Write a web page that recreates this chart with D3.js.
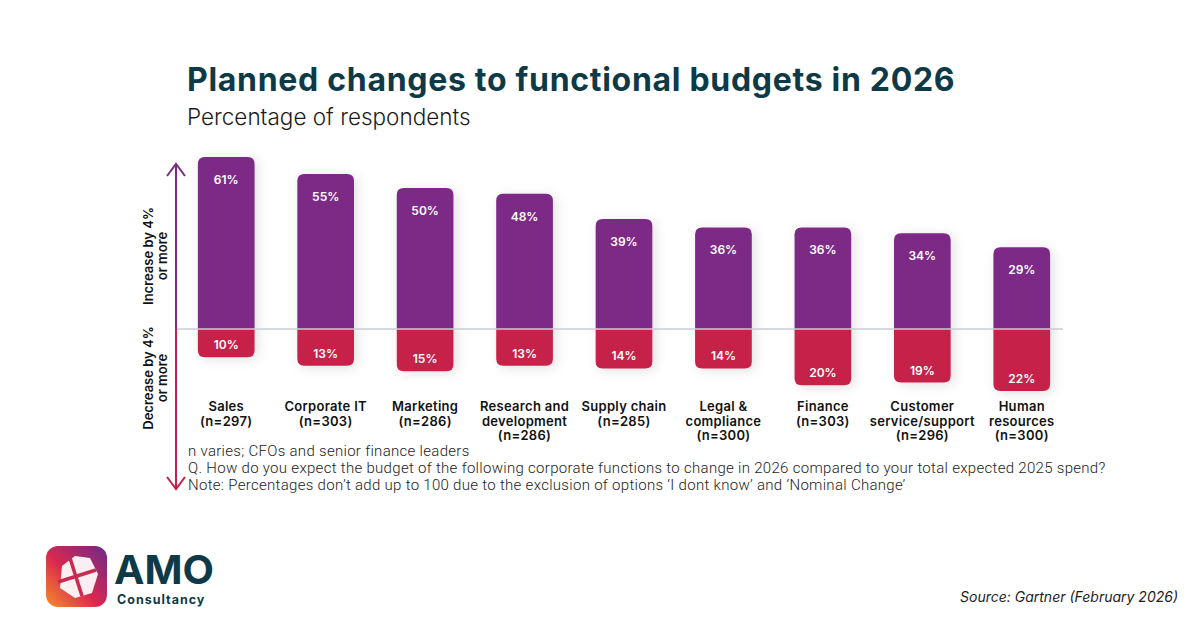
<!DOCTYPE html>
<html>
<head>
<meta charset="utf-8">
<script src="https://cdn.jsdelivr.net/npm/d3@7/dist/d3.min.js"></script>
<style>
  html, body { margin: 0; padding: 0; background: #fff; }
  svg { display: block; font-family: "Inter", "DejaVu Sans", sans-serif; }
</style>
</head>
<body>
<svg id="chart" width="1200" height="627"></svg>
<script>
// data
const categories = [
  ["Sales", "(n=297)"],
  ["Corporate IT", "(n=303)"],
  ["Marketing", "(n=286)"],
  ["Research and", "development", "(n=286)"],
  ["Supply chain", "(n=285)"],
  ["Legal &", "compliance", "(n=300)"],
  ["Finance", "(n=303)"],
  ["Customer", "service/support", "(n=296)"],
  ["Human", "resources", "(n=300)"],
];
const increase = [61, 55, 50, 48, 39, 36, 36, 34, 29];
const decrease = [10, 13, 15, 13, 14, 14, 20, 19, 22];
const footnotes = [
  "n varies; CFOs and senior finance leaders",
  "Q. How do you expect the budget of the following corporate functions to change in 2026 compared to your total expected 2025 spend?",
  "Note: Percentages don\u2019t add up to 100 due to the exclusion of options \u2018I dont know\u2019 and \u2018Nominal Change\u2019",
];

const purple = "#7b2a85";
const red = "#c62049";
const teal = "#0e3a48";

const svg = d3.select("#chart");
const defs = svg.append("defs");

const shadow = defs.append("filter").attr("id", "shadow")
  .attr("x", "-40%").attr("y", "-20%").attr("width", "180%").attr("height", "140%");
shadow.append("feDropShadow").attr("dx", 3).attr("dy", 2).attr("stdDeviation", 6)
  .attr("flood-color", "#000").attr("flood-opacity", 0.12);

const rows = categories.map((c, i) => ({ key: c.join(" "), lines: c, up: increase[i], down: decrease[i] }));

const baseY = 329;
const x = d3.scaleBand()
  .domain(rows.map((d) => d.key))
  .range([178, 1070])
  .paddingInner(0.43)
  .paddingOuter(0.2);

const yUp = d3.scaleLinear().domain([0, 61]).range([baseY, 157]);
const yDown = d3.scaleLinear().domain([0, 22]).range([baseY, baseY + 62]);

// title
svg.append("text")
  .attr("x", 187).attr("y", 91)
  .attr("font-size", 32).attr("font-weight", 700)
  .attr("letter-spacing", 0.7)
  .attr("fill", teal)
  .text("Planned changes to functional budgets in 2026");

svg.append("text")
  .attr("x", 187).attr("y", 125)
  .attr("font-size", 22.5).attr("font-weight", 300)
  .attr("fill", "#1c1c1c")
  .text("Percentage of respondents");

const bars = svg.append("g");

// rect with chosen corners rounded
const roundedRect = (x0, y0, w, h, rTop, rBottom) => {
  const p = d3.path();
  p.moveTo(x0 + rTop, y0);
  p.lineTo(x0 + w - rTop, y0);
  p.quadraticCurveTo(x0 + w, y0, x0 + w, y0 + rTop);
  p.lineTo(x0 + w, y0 + h - rBottom);
  p.quadraticCurveTo(x0 + w, y0 + h, x0 + w - rBottom, y0 + h);
  p.lineTo(x0 + rBottom, y0 + h);
  p.quadraticCurveTo(x0, y0 + h, x0, y0 + h - rBottom);
  p.lineTo(x0, y0 + rTop);
  p.quadraticCurveTo(x0, y0, x0 + rTop, y0);
  p.closePath();
  return p.toString();
};

const groups = bars.selectAll("g.bar").data(rows).join("g").attr("class", "bar")
  .attr("filter", "url(#shadow)");

groups.append("path")
  .attr("fill", purple)
  .attr("d", (d) => roundedRect(x(d.key), yUp(d.up), x.bandwidth(), baseY - yUp(d.up), 7, 0));

groups.append("path")
  .attr("fill", red)
  .attr("d", (d) => roundedRect(x(d.key), baseY, x.bandwidth(), yDown(d.down) - baseY, 0, 7));

// baseline
svg.append("line")
  .attr("x1", 176).attr("x2", 1063)
  .attr("y1", baseY).attr("y2", baseY)
  .attr("stroke", "#c9cdd2").attr("stroke-width", 1.5);

const labels = svg.append("g")
  .attr("fill", "#fff").attr("font-size", 12).attr("font-weight", 600)
  .attr("text-anchor", "middle");

labels.selectAll("text.up").data(rows).join("text").attr("class", "up")
  .attr("x", (d) => x(d.key) + x.bandwidth() / 2)
  .attr("y", (d) => yUp(d.up) + 27)
  .text((d) => d.up + "%");

labels.selectAll("text.down").data(rows).join("text").attr("class", "down")
  .attr("x", (d) => x(d.key) + x.bandwidth() / 2)
  .attr("y", (d) => yDown(d.down) - 8)
  .text((d) => d.down + "%");

// category labels
const cat = svg.append("g")
  .attr("fill", "#111").attr("font-size", 13).attr("font-weight", 600)
  .attr("letter-spacing", 0.3)
  .attr("text-anchor", "middle");

cat.selectAll("text").data(rows).join("text")
  .attr("x", (d) => x(d.key) + x.bandwidth() / 2)
  .attr("y", 411)
  .each(function (d) {
    const t = d3.select(this);
    d.lines.forEach((line, i) => {
      t.append("tspan")
        .attr("x", x(d.key) + x.bandwidth() / 2)
        .attr("dy", i === 0 ? 0 : 14.5)
        .text(line);
    });
  });

// side arrow
const ax = 176;
svg.append("line").attr("x1", ax).attr("x2", ax).attr("y1", 164).attr("y2", baseY)
  .attr("stroke", purple).attr("stroke-width", 2);
svg.append("path").attr("d", `M${ax - 9},${176} L${ax},${164} L${ax + 9},${176}`)
  .attr("fill", "none").attr("stroke", purple).attr("stroke-width", 2);
svg.append("line").attr("x1", ax).attr("x2", ax).attr("y1", baseY).attr("y2", 489)
  .attr("stroke", red).attr("stroke-width", 2);
svg.append("path").attr("d", `M${ax - 9},${477} L${ax},${489} L${ax + 9},${477}`)
  .attr("fill", "none").attr("stroke", red).attr("stroke-width", 2);

const sideLabel = (cy, lines) => {
  const t = svg.append("text")
    .attr("transform", `translate(153,${cy}) rotate(-90)`)
    .attr("text-anchor", "middle")
    .attr("font-size", 13).attr("font-weight", 600).attr("fill", "#111");
  lines.forEach((line, i) => {
    t.append("tspan").attr("x", 0).attr("dy", i === 0 ? 0 : 13.5).text(line);
  });
};
sideLabel(256, ["Increase by 4%", "or more"]);
sideLabel(378, ["Decrease by 4%", "or more"]);

// footnotes
svg.append("g")
  .attr("font-size", 15).attr("font-weight", 300).attr("fill", "#1c1c1c")
  .attr("letter-spacing", 0.3)
  .attr("font-family", "Roboto, sans-serif")
  .selectAll("text").data(footnotes).join("text")
  .attr("x", 188)
  .attr("y", (d, i) => 456 + i * 17)
  .text((d) => d);

// source
svg.append("text")
  .attr("x", 1178).attr("y", 602)
  .attr("text-anchor", "end")
  .attr("font-size", 14).attr("font-style", "italic").attr("fill", "#1c1c1c")
  .text("Source: Gartner (February 2026)");

// logo
const lg = defs.append("linearGradient").attr("id", "logoGrad")
  .attr("x1", "0%").attr("y1", "100%").attr("x2", "100%").attr("y2", "0%");
lg.append("stop").attr("offset", "0%").attr("stop-color", "#f5902a");
lg.append("stop").attr("offset", "45%").attr("stop-color", "#d9284f");
lg.append("stop").attr("offset", "100%").attr("stop-color", "#6b2a8a");

const logo = svg.append("g");
logo.append("rect").attr("x", 46).attr("y", 546).attr("width", 61).attr("height", 61)
  .attr("rx", 12).attr("fill", "url(#logoGrad)");
logo.append("path")
  .attr("d", "M62,566 L75,556 L90,558 L98,574 L92,593 L75,598 L60,588 Z")
  .attr("fill", "#fff").attr("opacity", 0.92);
logo.append("path")
  .attr("d", "M58,582 L96,570 M70,558 L82,596")
  .attr("stroke", "#c92a4f").attr("stroke-width", 3.5);
logo.append("text")
  .attr("x", 114).attr("y", 584)
  .attr("font-size", 40).attr("font-weight", 700).attr("fill", teal)
  .attr("textLength", 100).attr("lengthAdjust", "spacingAndGlyphs")
  .text("AMO");
logo.append("text")
  .attr("x", 117).attr("y", 604)
  .attr("font-size", 12.5).attr("font-weight", 700).attr("fill", teal)
  .attr("letter-spacing", 1)
  .text("Consultancy");
</script>
</body>
</html>
